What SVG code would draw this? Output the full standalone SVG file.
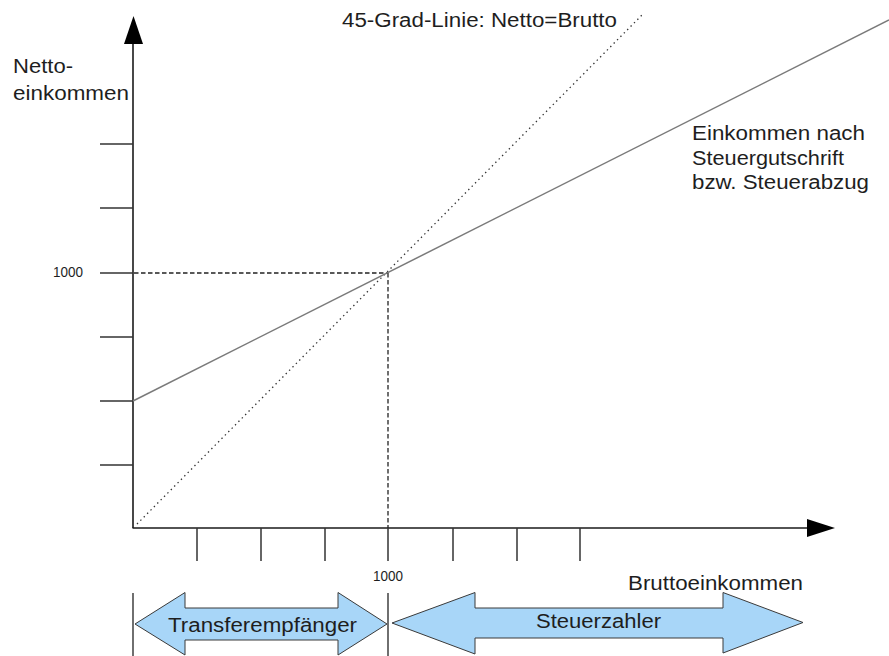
<svg xmlns="http://www.w3.org/2000/svg" width="889" height="656" viewBox="0 0 889 656">
<defs>
<style>
.txt{font-family:"Liberation Sans",Arial,sans-serif;fill:#1e1e1e;}
.lbl{font-size:20px;}
.num{font-size:14px;}
.axis{stroke:#1a1a1a;stroke-width:1.6;fill:none;}
.tick{stroke:#333;stroke-width:1.5;fill:none;}
.dash{stroke:#222;stroke-width:1.3;stroke-dasharray:4.5 2.5;fill:none;}
.dot{stroke:#333;stroke-width:1.3;stroke-dasharray:1.4 3.4;fill:none;}
.income{stroke:#7a7a7a;stroke-width:1.5;fill:none;}
.sep{stroke:#222;stroke-width:1.3;fill:none;}
.dbl{fill:#a8d6f8;stroke:#3a3a3a;stroke-width:1;}
</style>
</defs>
<rect width="889" height="656" fill="#ffffff"/>

<g id="axes">
<line class="axis" x1="133" y1="528" x2="133" y2="42"/>
<polygon points="133.5,16 124,44 143,44" fill="#000"/>
<line class="axis" x1="132.5" y1="528" x2="809" y2="528"/>
<polygon points="835,528 807,519 807,537" fill="#000"/>
</g>

<g id="y-ticks">
<line class="tick" x1="100" y1="144" x2="133" y2="144"/>
<line class="tick" x1="100" y1="208" x2="133" y2="208"/>
<line class="tick" x1="100" y1="273" x2="133" y2="273"/>
<line class="tick" x1="100" y1="337" x2="133" y2="337"/>
<line class="tick" x1="100" y1="401" x2="133" y2="401"/>
<line class="tick" x1="100" y1="465" x2="133" y2="465"/>
</g>

<g id="x-ticks">
<line class="tick" x1="197" y1="528" x2="197" y2="561"/>
<line class="tick" x1="261" y1="528" x2="261" y2="561"/>
<line class="tick" x1="325" y1="528" x2="325" y2="561"/>
<line class="tick" x1="388" y1="528" x2="388" y2="561"/>
<line class="tick" x1="453" y1="528" x2="453" y2="561"/>
<line class="tick" x1="517" y1="528" x2="517" y2="561"/>
<line class="tick" x1="580" y1="528" x2="580" y2="561"/>
</g>

<g id="connectors">
<line class="dash" x1="134" y1="273" x2="388" y2="273"/>
<line class="dash" x1="388" y1="273" x2="388" y2="528"/>
<line class="dot" x1="137" y1="524" x2="643" y2="14"/>
<line class="income" x1="133" y1="401" x2="889" y2="20"/>
</g>

<g id="separators">
<line class="sep" x1="133" y1="593" x2="133" y2="656"/>
<line class="sep" x1="388" y1="593" x2="388" y2="656"/>
</g>

<g id="transferempfaenger">
<polygon class="dbl" points="135,624 185,592.5 185,608 338,608 338,592.5 387,624 338,655 338,640 185,640 185,655"/>
<text class="txt lbl" x="168" y="632" textLength="189" lengthAdjust="spacingAndGlyphs">Transferempfänger</text>
</g>

<g id="steuerzahler">
<polygon class="dbl" points="392,623 475,592.5 475,608 723,608 723,592.5 803,622.5 723,653 723,638 475,638 475,654"/>
<text class="txt lbl" x="536" y="628" textLength="125" lengthAdjust="spacingAndGlyphs">Steuerzahler</text>
</g>

<g id="labels">
<text class="txt lbl" x="342" y="27" textLength="275" lengthAdjust="spacingAndGlyphs">45-Grad-Linie: Netto=Brutto</text>
<text class="txt lbl" x="13" y="73" textLength="60" lengthAdjust="spacingAndGlyphs">Netto-</text>
<text class="txt lbl" x="13" y="100" textLength="116" lengthAdjust="spacingAndGlyphs">einkommen</text>
<text class="txt lbl" x="692" y="140" textLength="173" lengthAdjust="spacingAndGlyphs">Einkommen nach</text>
<text class="txt lbl" x="692" y="164.5" textLength="152" lengthAdjust="spacingAndGlyphs">Steuergutschrift</text>
<text class="txt lbl" x="692" y="189" textLength="177" lengthAdjust="spacingAndGlyphs">bzw. Steuerabzug</text>
<text class="txt lbl" x="628" y="590" textLength="175" lengthAdjust="spacingAndGlyphs">Bruttoeinkommen</text>
<text class="txt num" x="53" y="277" textLength="30" lengthAdjust="spacingAndGlyphs">1000</text>
<text class="txt num" x="373" y="581" textLength="30" lengthAdjust="spacingAndGlyphs">1000</text>
</g>
</svg>
